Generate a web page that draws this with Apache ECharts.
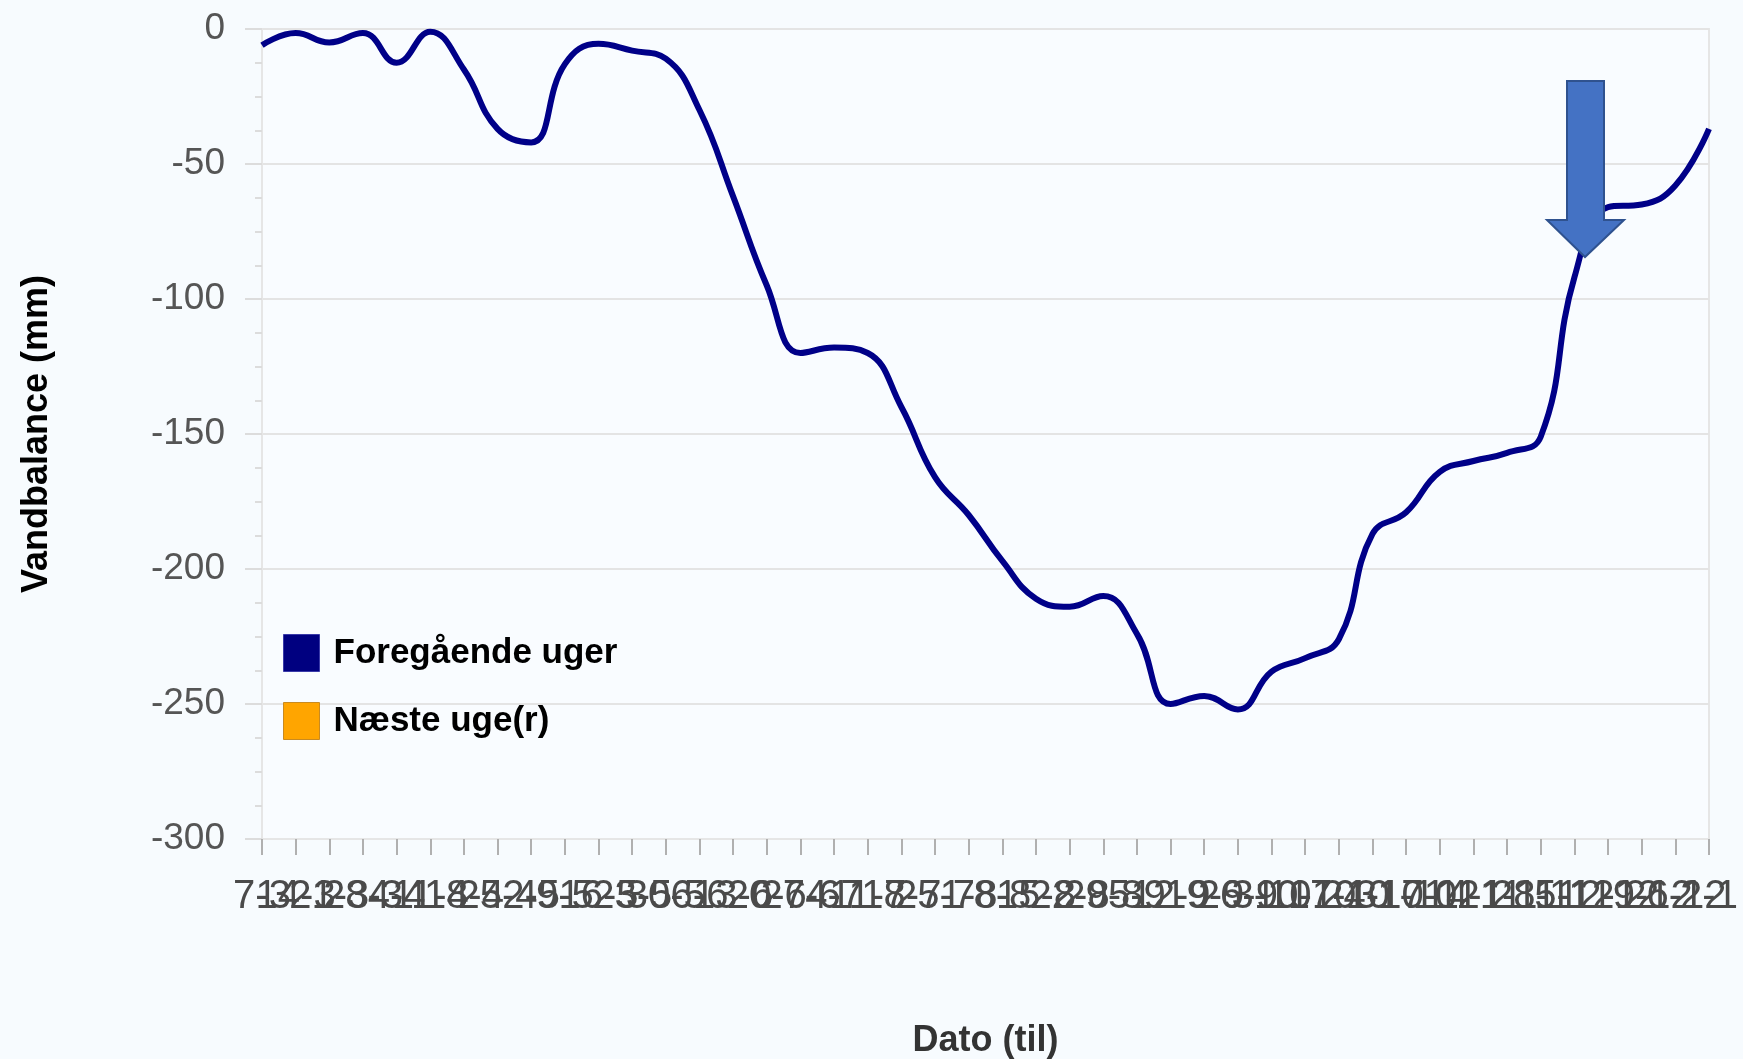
<!DOCTYPE html>
<html>
<head>
<meta charset="utf-8">
<title>Vandbalance</title>
<script src="https://cdn.jsdelivr.net/npm/echarts@6/dist/echarts.min.js"></script>
<style>
  html, body { margin: 0; padding: 0; background: #f7fbfe; }
  #chart { width: 1743px; height: 1059px; }
</style>
</head>
<body>
<div id="chart"></div>
<script>
// datoer (til) - en pr. uge
const datoer = ["7-3", "14-3", "21-3", "28-3", "4-4", "11-4", "18-4", "25-4", "2-5", "9-5",
  "16-5", "23-5", "30-5", "6-6", "13-6", "20-6", "27-6", "4-7", "11-7", "18-7",
  "25-7", "1-8", "8-8", "15-8", "22-8", "29-8", "5-9", "12-9", "19-9", "26-9",
  "3-10", "10-10", "17-10", "24-10", "31-10", "7-11", "14-11", "21-11", "28-11", "5-12",
  "12-12", "19-12", "26-12", "2-1"];

// vandbalance (mm)
const foregaaende = [-6, -1.5, -5, -1.5, -12.5, -1, -15, -37, -42, -13,
  -5.5, -8, -11, -30, -62, -95, -120, -118, -120, -140,
  -166, -180, -197, -211, -214, -210, -224, -250, -247, -252,
  -238, -233, -226, -187, -179, -164, -160, -157, -151, -92,
  -66, -65, -58, -37];

// prognose - ingen værdier vist
const naesteUge = [];

const yTicks = [0, -300, 50]; // max, min, interval

let myChart = echarts.init(document.getElementById("chart"));

myChart.setOption({
  backgroundColor: "#f7fbfe",
  animation: false,
  grid: {
    left: 262, right: 34, top: 29, bottom: 220,
    show: true,
    backgroundColor: "#f9fcff",
    borderColor: "#e6e6e6",
    borderWidth: 2,
    outerBoundsMode: "none"
  },
  legend: {
    orient: "vertical",
    left: 283,
    top: 634,
    padding: 0,
    itemGap: 30,
    itemWidth: 36,
    itemHeight: 37,
    icon: "rect",
    textStyle: {
      fontFamily: "'Liberation Sans', Arial",
      fontWeight: "bold",
      fontSize: 35,
      color: "#000",
      padding: [0, 0, 0, 9]
    },
    data: [
      {name: "Foregående uger", itemStyle: {color: "#000080", borderColor: "#3a3aa8", borderWidth: 1}},
      {name: "Næste uge(r)", itemStyle: {color: "#ffa500", borderColor: "#c98a20", borderWidth: 1}}
    ]
  },
  xAxis: {
    type: "category",
    data: datoer,
    boundaryGap: false,
    name: "Dato (til)",
    nameLocation: "middle",
    nameGap: 184,
    nameTextStyle: {
      fontFamily: "'Liberation Sans', Arial",
      fontWeight: "bold",
      fontSize: 36,
      color: "#333"
    },
    axisLine: {onZero: false, lineStyle: {color: "#e6e6e6", width: 2}},
    axisTick: {alignWithLabel: true, length: 16, lineStyle: {color: "#b0b0b0", width: 2}},
    axisLabel: {
      interval: 0,
      margin: 38,
      fontFamily: "'Liberation Sans', Arial",
      fontSize: 40,
      color: "#4a4a4a"
    },
    splitLine: {show: false}
  },
  yAxis: {
    type: "value",
    max: yTicks[0],
    min: yTicks[1],
    interval: yTicks[2],
    name: "Vandbalance (mm)",
    nameLocation: "middle",
    nameRotate: 90,
    nameGap: 207,
    nameTextStyle: {
      fontFamily: "'Liberation Sans', Arial",
      fontWeight: "bold",
      fontSize: 36,
      color: "#000"
    },
    axisLine: {show: true, lineStyle: {color: "#e6e6e6", width: 2}},
    axisTick: {show: true, length: 17, lineStyle: {color: "#dcdcdc", width: 2}},
    minorTick: {show: true, splitNumber: 4, length: 7, lineStyle: {color: "#dcdcdc", width: 2}},
    axisLabel: {
      margin: 37,
      fontFamily: "'Liberation Sans', Arial",
      fontSize: 37,
      color: "#555"
    },
    splitLine: {lineStyle: {color: "#e4e4e4", width: 2}}
  },
  series: [
    {
      name: "Foregående uger",
      type: "line",
      data: foregaaende,
      smooth: 0.45,
      showSymbol: false,
      lineStyle: {color: "#000088", width: 6},
      itemStyle: {color: "#000080"},
      z: 3
    },
    {
      name: "Næste uge(r)",
      type: "line",
      data: naesteUge,
      showSymbol: false,
      lineStyle: {color: "#ffa500", width: 5},
      itemStyle: {color: "#ffa500"}
    }
  ],
  // blaa pil (markering)
  graphic: [
    {
      type: "polygon",
      z: 100,
      shape: {
        points: [[1567, 81], [1604, 81], [1604, 220], [1624, 220], [1585, 257],
          [1547, 220], [1567, 220]]
      },
      style: {fill: "#4472c4", stroke: "#2f528f", lineWidth: 2}
    }
  ]
});
</script>
</body>
</html>
